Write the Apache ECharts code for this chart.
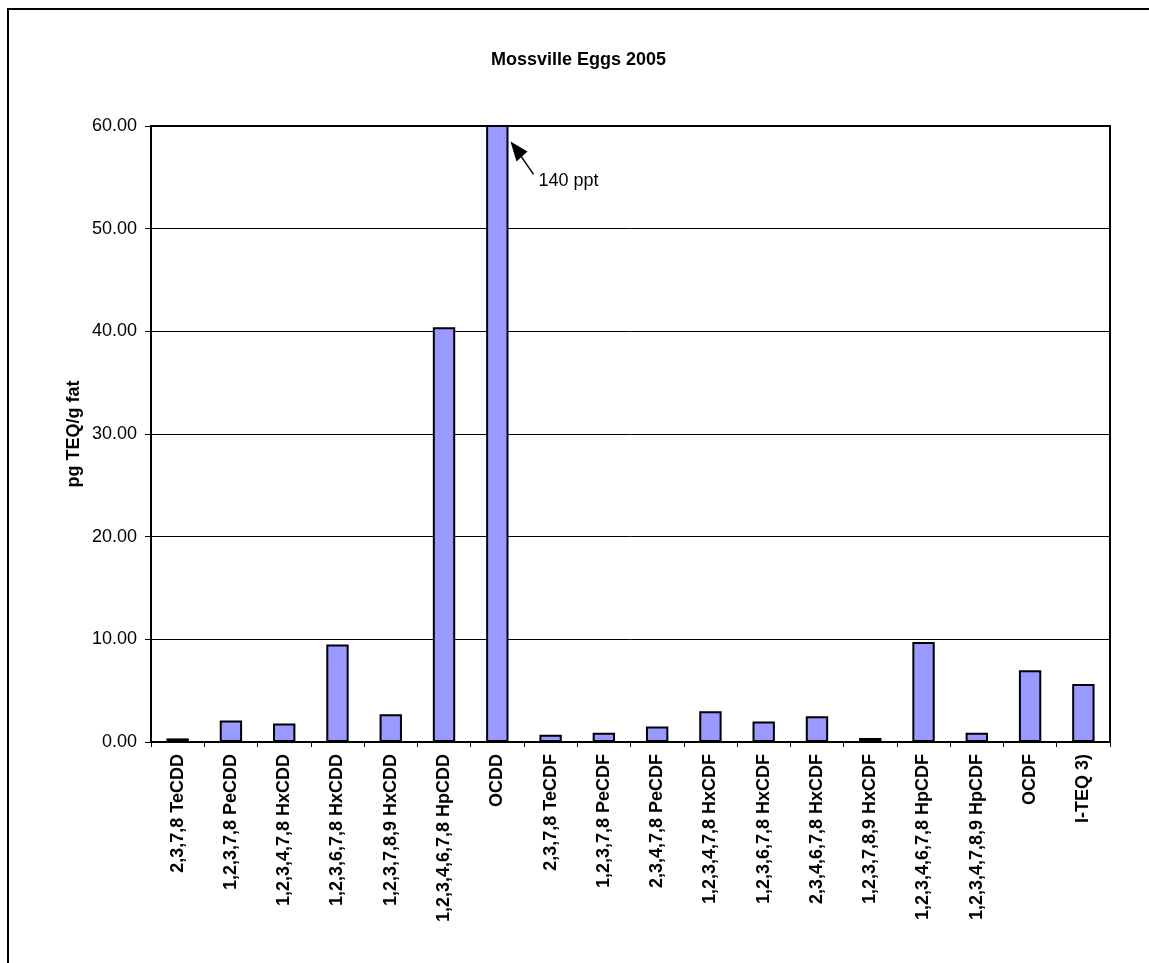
<!DOCTYPE html>
<html>
<head>
<meta charset="utf-8">
<title>Mossville Eggs 2005</title>
<script src="https://cdn.jsdelivr.net/npm/echarts@6/dist/echarts.min.js"></script>
<style>
  html, body { margin: 0; padding: 0; background: #fff; }
  #chart { width: 1149px; height: 963px; }
</style>
</head>
<body>
<div id="chart"></div>
<script>
// Congener names along the x axis
const congeners = [
  '2,3,7,8 TeCDD', '1,2,3,7,8 PeCDD', '1,2,3,4,7,8 HxCDD', '1,2,3,6,7,8 HxCDD',
  '1,2,3,7,8,9 HxCDD', '1,2,3,4,6,7,8 HpCDD', 'OCDD', '2,3,7,8 TeCDF',
  '1,2,3,7,8 PeCDF', '2,3,4,7,8 PeCDF', '1,2,3,4,7,8 HxCDF', '1,2,3,6,7,8 HxCDF',
  '2,3,4,6,7,8 HxCDF', '1,2,3,7,8,9 HxCDF', '1,2,3,4,6,7,8 HpCDF', '1,2,3,4,7,8,9 HpCDF',
  'OCDF', 'I-TEQ 3)'
];
// Concentrations, pg TEQ/g fat (OCDD runs off the scale at 140 ppt)
const concentrations = [
  0.35, 2.1, 1.8, 9.5, 2.7, 40.4, 140, 0.7,
  0.9, 1.5, 3.0, 2.0, 2.5, 0.4, 9.75, 0.9,
  7.0, 5.65
];
// Value axis ticks
const yTicks = [0, 10, 20, 30, 40, 50, 60];
// Off-scale note
const offScaleLabel = '140 ppt';
const offScaleCategory = 'OCDD';

const FONT = '"Liberation Sans", Arial, Helvetica, sans-serif';
const chart = echarts.init(document.getElementById('chart'));

const frame = {
  // outer chart frame
  type: 'rect',
  shape: { x: 8, y: 9, width: 1200, height: 1000 },
  style: { fill: 'none', stroke: '#000', lineWidth: 2 },
  silent: true
};

chart.setOption({
  animation: false,
  backgroundColor: '#fff',
  title: {
    text: 'Mossville Eggs 2005',
    left: 491,
    top: 51,
    padding: 0,
    textStyle: { fontFamily: FONT, fontSize: 18, fontWeight: 'bold', color: '#000' }
  },
  grid: {
    left: 151, right: 39, top: 126, bottom: 221,
    show: true, borderColor: '#000', borderWidth: 2, backgroundColor: 'transparent'
  },
  xAxis: {
    type: 'category',
    data: congeners,
    axisLine: { lineStyle: { color: '#000', width: 2 } },
    axisTick: { show: true, length: 5, lineStyle: { color: '#000', width: 1 } },
    axisLabel: {
      interval: 0, rotate: 90, margin: 12,
      fontFamily: FONT, fontSize: 18, fontWeight: 'bold', color: '#000'
    }
  },
  yAxis: {
    type: 'value',
    min: yTicks[0],
    max: yTicks[yTicks.length - 1],
    interval: yTicks[1] - yTicks[0],
    name: 'pg TEQ/g fat',
    nameLocation: 'middle',
    nameRotate: 90,
    nameGap: 68,
    nameMoveOverlap: false,
    nameTextStyle: { fontFamily: FONT, fontSize: 18, fontWeight: 'bold', color: '#000' },
    axisLine: { show: true, lineStyle: { color: '#000', width: 2 } },
    axisTick: { show: true, length: 6, lineStyle: { color: '#000', width: 1 } },
    axisLabel: {
      margin: 14, fontFamily: FONT, fontSize: 18, color: '#000',
      formatter: v => v.toFixed(2)
    },
    splitLine: { show: true, lineStyle: { color: '#000', width: 1 } }
  },
  series: [{
    type: 'bar',
    data: concentrations,
    barCategoryGap: '58%',
    clip: true,
    itemStyle: { color: '#9999FF', borderColor: '#000', borderWidth: 2 }
  }],
  graphic: [frame]
});

// Arrow and note pointing at the clipped OCDD bar
function drawNote() {
  const idx = congeners.indexOf(offScaleCategory);
  const top = chart.convertToPixel({ gridIndex: 0 }, [idx, 58.5]);
  const left = chart.convertToPixel({ gridIndex: 0 }, [idx - 0.5, 0]);
  const right = chart.convertToPixel({ gridIndex: 0 }, [idx + 0.5, 0]);
  const catW = right[0] - left[0];
  const barHalf = catW * (1 - 0.58) / 2;
  const tx = top[0] + barHalf + 2;
  const ty = top[1];
  chart.setOption({
    graphic: [frame, {
      type: 'group',
      x: tx, y: ty,
      children: [{
        type: 'polygon',
        shape: { points: [[0, 0], [17, 10], [6, 20]] },
        style: { fill: '#000' }
      }, {
        type: 'line',
        shape: { x1: 10, y1: 14, x2: 23, y2: 33 },
        style: { stroke: '#000', lineWidth: 1.5 }
      }, {
        type: 'text',
        x: 28, y: 40,
        style: {
          text: offScaleLabel, fontFamily: FONT, fontSize: 18, fill: '#000',
          verticalAlign: 'middle', align: 'left'
        }
      }]
    }]
  }, { replaceMerge: ['graphic'] });
}
drawNote();
</script>
</body>
</html>
